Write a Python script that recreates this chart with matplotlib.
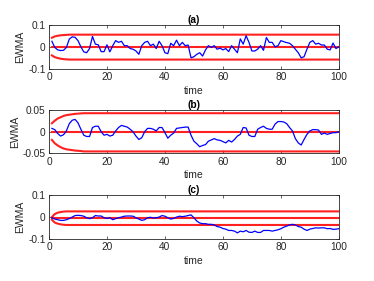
import matplotlib
matplotlib.use("Agg")
import matplotlib.pyplot as plt
import numpy as np

plt.rcParams["font.family"] = ["Liberation Sans", "DejaVu Sans"]

time = list(range(1, 101))

# EWMA statistics, panel (a)
ewma_a = [0.025, -0.003, -0.014, -0.017, -0.016, -0.003, 0.035, 0.045, 0.043, 0.028,
          0.000, -0.023, -0.027, -0.008, 0.047, 0.012, 0.009, -0.022, -0.022, 0.009,
          -0.023, 0.005, 0.028, 0.020, 0.025, 0.005, 0.005, -0.008, -0.011, -0.019,
          -0.034, 0.005, 0.020, 0.025, 0.005, 0.012, -0.008, 0.025, 0.005, -0.027,
          -0.031, 0.016, 0.005, 0.030, 0.005, 0.020, 0.005, 0.008, -0.050, -0.045,
          -0.034, -0.027, -0.042, -0.014, 0.005, -0.003, 0.005, -0.011, -0.006, -0.014,
          -0.008, -0.022, 0.005, -0.011, -0.027, 0.036, 0.012, 0.050, 0.020, -0.019,
          -0.019, -0.011, 0.005, -0.016, 0.042, 0.020, 0.020, 0.000, 0.005, 0.028,
          0.023, 0.019, 0.016, 0.005, -0.011, -0.027, -0.050, -0.045, -0.011, 0.020,
          0.028, 0.012, 0.016, 0.008, 0.008, -0.011, -0.014, 0.017, -0.008, 0.000]
center_a = 0.0
ucl_a_start = [0.041, 0.047, 0.050, 0.052, 0.053, 0.054]
lcl_a_start = [-0.039, -0.047, -0.051, -0.054, -0.056, -0.057]
ucl_a_level = 0.055
lcl_a_level = -0.058

# panel (b)
ewma_b = [0.008, 0.005, -0.004, -0.010, -0.007, 0.002, 0.019, 0.027, 0.029, 0.021,
          0.006, -0.008, -0.011, -0.011, 0.010, 0.013, 0.013, 0.000, -0.008, -0.006,
          -0.010, -0.008, 0.002, 0.010, 0.015, 0.013, 0.011, 0.006, 0.000, -0.010,
          -0.018, -0.014, 0.000, 0.008, 0.008, 0.006, 0.002, 0.010, 0.010, -0.002,
          -0.015, -0.008, -0.003, 0.008, 0.009, 0.010, 0.011, 0.011, -0.008, -0.022,
          -0.028, -0.035, -0.032, -0.030, -0.022, -0.019, -0.016, -0.019, -0.020, -0.023,
          -0.026, -0.020, -0.024, -0.018, -0.010, -0.006, 0.010, 0.009, -0.008, -0.011,
          -0.011, 0.006, 0.010, 0.013, 0.008, 0.006, 0.006, 0.018, 0.024, 0.024,
          0.023, 0.019, 0.010, 0.002, -0.016, -0.026, -0.031, -0.018, -0.006, 0.002,
          0.005, 0.005, 0.004, -0.006, -0.003, -0.006, -0.004, -0.002, -0.002, 0.000]
center_b = -0.0015
ucl_b_start = [0.020, 0.026, 0.031, 0.034, 0.037, 0.039, 0.040, 0.041, 0.042, 0.0425, 0.043]
lcl_b_start = [-0.019, -0.027, -0.032, -0.036, -0.039, -0.041, -0.042, -0.043, -0.044, -0.0445, -0.045]
ucl_b_level = 0.0435
lcl_b_level = -0.046

# panel (c)
ewma_c = [-0.005, -0.011, -0.014, -0.017, -0.017, -0.014, -0.009, -0.002, 0.005, 0.006,
          0.005, 0.002, -0.005, -0.009, -0.005, 0.005, 0.003, 0.003, -0.005, -0.008,
          -0.005, -0.014, -0.009, -0.005, -0.002, 0.002, 0.003, 0.003, 0.002, -0.005,
          -0.011, -0.017, -0.014, -0.005, -0.003, -0.006, -0.005, -0.002, 0.005, 0.002,
          -0.005, -0.011, -0.008, -0.002, 0.002, 0.000, 0.002, 0.005, 0.008, -0.005,
          -0.020, -0.029, -0.032, -0.032, -0.035, -0.035, -0.038, -0.045, -0.048, -0.054,
          -0.057, -0.063, -0.063, -0.066, -0.074, -0.066, -0.069, -0.063, -0.071, -0.072,
          -0.066, -0.072, -0.072, -0.063, -0.063, -0.063, -0.066, -0.063, -0.060, -0.055,
          -0.048, -0.043, -0.038, -0.035, -0.038, -0.045, -0.048, -0.057, -0.063, -0.057,
          -0.054, -0.051, -0.052, -0.051, -0.051, -0.055, -0.054, -0.058, -0.057, -0.055]
center_c = -0.008
ucl_c_start = [-0.002, 0.012, 0.018, 0.021, 0.023]
lcl_c_start = [-0.014, -0.027, -0.032, -0.035, -0.037]
ucl_c_level = 0.024
lcl_c_level = -0.038

titles = ["(a)", "(b)", "(c)"]
ylims = [(-0.1, 0.1), (-0.05, 0.05), (-0.1, 0.1)]
yticks = [[-0.1, 0, 0.1], [-0.05, 0, 0.05], [-0.1, 0, 0.1]]
ytick_labels = [["-0.1", "0", "0.1"], ["-0.05", "0", "0.05"], ["-0.1", "0", "0.1"]]
xticks = [0, 20, 40, 60, 80, 100]


def full_limit(start, level, n):
    return start + [level] * (n - len(start))


panels = [
    (ewma_a, center_a, ucl_a_start, ucl_a_level, lcl_a_start, lcl_a_level),
    (ewma_b, center_b, ucl_b_start, ucl_b_level, lcl_b_start, lcl_b_level),
    (ewma_c, center_c, ucl_c_start, ucl_c_level, lcl_c_start, lcl_c_level),
]

fig = plt.figure(figsize=(3.74, 2.81), dpi=100)
boxes = [(0.131, 0.755, 0.775, 0.157),
         (0.131, 0.455, 0.775, 0.152),
         (0.131, 0.151, 0.775, 0.156)]

for i, (ewma, center, ucl_s, ucl_l, lcl_s, lcl_l) in enumerate(panels):
    ax = fig.add_axes(boxes[i])
    n = len(time)
    ucl = full_limit(ucl_s, ucl_l, n)
    lcl = full_limit(lcl_s, lcl_l, n)
    ax.plot(time, ucl, color="#ff2020", lw=1.5)
    ax.plot(time, lcl, color="#ff2020", lw=1.5)
    ax.plot(time, [center] * n, color="#ff2020", lw=1.5)
    ax.plot(time, ewma, color="#0000ff", lw=0.9)
    ax.set_xlim(0, 100)
    ax.set_ylim(*ylims[i])
    ax.set_xticks(xticks)
    ax.set_xticklabels([str(x) for x in xticks])
    ax.set_yticks(yticks[i])
    ax.set_yticklabels(ytick_labels[i])
    ax.tick_params(direction="in", length=2.5, width=0.5, labelsize=7.3,
                   top=True, right=True, pad=2.5, colors="#262626")
    for sp in ax.spines.values():
        sp.set_linewidth(0.6)
        sp.set_color("#262626")
    ax.set_title(titles[i], fontsize=7.3, fontweight="bold", pad=1.5)
    ax.set_xlabel("time", fontsize=7.5, labelpad=2.5, color="#262626")
    ax.set_ylabel("EWMA", fontsize=7.5, labelpad=2, color="#262626")

fig.savefig("out.png", dpi=100)
